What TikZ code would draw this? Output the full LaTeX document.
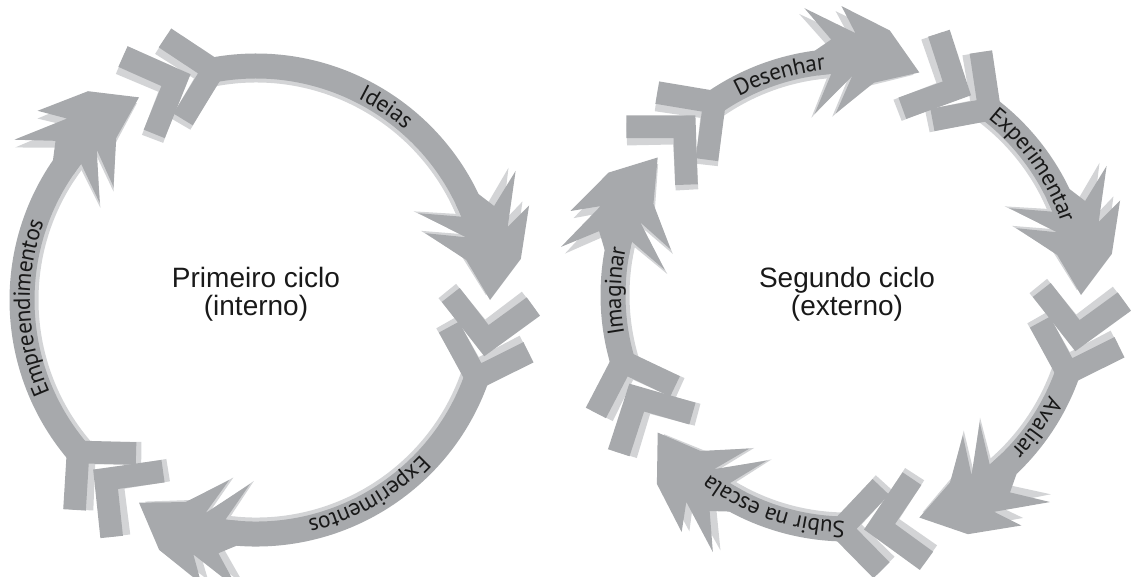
\documentclass[tikz,border=0pt]{standalone}
\usepackage{fontspec}
\usetikzlibrary{decorations.text}
\newfontfamily\rotulofont{PT Sans}
\newfontfamily\ciclofont{Liberation Sans}

\definecolor{setaescura}{RGB}{167,169,172}
\definecolor{setaclara}{RGB}{211,212,214}

\tikzset{every picture/.style={line width=0.75pt}}
\tikzset{
  faixa/.style={line width=18.75pt},
  pena/.style={line width=17pt, line join=miter, miter limit=10},
  rotulo/.style={decorate, decoration={text along path, text align=center, raise=-6pt, text color=black!90}},
  ciclotexto/.style={font=\ciclofont\fontsize{21}{21}\selectfont, align=center, text=black!90}
}

\def\raio{234}
\def\kk{0.24486}
\def\braco{58}
\def\aout{44}
\def\ain{48}

% #1 start angle, #2 tip angle, #3 colour
\newcommand{\seta}[3]{%
  \pgfmathsetmacro{\ra}{#1+10}%
  \pgfmathsetmacro{\fa}{#1+19.5}%
  \pgfmathsetmacro{\hb}{#2-20}%
  \draw[#3, faixa] (\fa:\raio) arc[start angle=\fa, end angle=\hb, radius=\raio];
  \draw[#3, pena] (\ra:\raio) ++({\ra-90+\aout}:\braco) -- (\ra:\raio) -- ++({\ra-90-\ain}:\braco);
  \draw[#3, pena] (\fa:\raio) ++({\fa-90+\aout}:\braco) -- (\fa:\raio) -- ++({\fa-90-\ain}:\braco);
  \fill[#3] (#2:\raio) -- ({#2-36*\kk}:{\raio+34}) -- ({#2-78*\kk}:{\raio+55})
     -- ({#2-66*\kk}:{\raio+28}) -- ({#2-108*\kk}:{\raio+56}) -- ({#2-88*\kk}:{\raio+22})
     -- ({#2-104*\kk}:{\raio+12.5}) -- ({#2-104*\kk}:{\raio-12.5}) -- ({#2-90*\kk}:{\raio-12})
     -- ({#2-115*\kk}:{\raio-50}) -- ({#2-68*\kk}:{\raio-15}) -- ({#2-88*\kk}:{\raio-52})
     -- ({#2-44*\kk}:{\raio-20}) -- cycle;
}

\begin{document}
\begin{tikzpicture}[x=0.75pt,y=0.75pt,yscale=-1,xscale=1]
    \useasboundingbox (0,0) rectangle (1131,576);

    %Shape: Primeiro ciclo
    \begin{scope}[shift={(256,300)}]
      \begin{scope}[rotate=-1.2, scale=0.983]
        \foreach \a/\b in {0/120,120/240,240/360} {\seta{\a}{\b}{setaclara}}
      \end{scope}
      \foreach \a/\b in {0/120,120/240,240/360} {\seta{\a}{\b}{setaescura}}

      %Text: labels on the arrows
      \path[rotulo, decoration={text={|\rotulofont\fontsize{17.5}{17.5}\selectfont|Ideias}}] (274:\raio) arc[start angle=274, end angle=334, radius=\raio];
      \path[rotulo, decoration={text={|\rotulofont\fontsize{17.5}{17.5}\selectfont|Experimentos}}] (30:\raio) arc[start angle=30, end angle=90, radius=\raio];
      \path[rotulo, decoration={text={|\rotulofont\fontsize{17.5}{17.5}\selectfont|Empreendimentos}}] (148:\raio) arc[start angle=148, end angle=208, radius=\raio];
    \end{scope}
    \node[ciclotexto] (primeiro) at (256,294) {Primeiro ciclo\\(interno)};

    %Shape: Segundo ciclo
    \begin{scope}[shift={(847,295)}]
      \begin{scope}[rotate=-1.2, scale=0.983]
        \foreach \a/\b in {-144/-72,-72/0,0/72,72/144,144/216} {\seta{\a}{\b}{setaclara}}
      \end{scope}
      \foreach \a/\b in {-144/-72,-72/0,0/72,72/144,144/216} {\seta{\a}{\b}{setaescura}}

      %Text: labels on the arrows
      \path[rotulo, decoration={text={|\rotulofont\fontsize{17.5}{17.5}\selectfont|Desenhar}}] (-137:\raio) arc[start angle=-137, end angle=-77, radius=\raio];
      \path[rotulo, decoration={text={|\rotulofont\fontsize{17.5}{17.5}\selectfont|Experimentar}}] (-65:\raio) arc[start angle=-65, end angle=-5, radius=\raio];
      \path[rotulo, decoration={text={|\rotulofont\fontsize{17.5}{17.5}\selectfont|Avaliar}}] (5:\raio) arc[start angle=5, end angle=65, radius=\raio];
      \path[rotulo, decoration={text={|\rotulofont\fontsize{17.5}{17.5}\selectfont|Subir na escala}}] (79:\raio) arc[start angle=79, end angle=139, radius=\raio];
      \path[rotulo, decoration={text={|\rotulofont\fontsize{17.5}{17.5}\selectfont|Imaginar}}] (151:\raio) arc[start angle=151, end angle=211, radius=\raio];
    \end{scope}
    \node[ciclotexto] (segundo) at (847,294) {Segundo ciclo\\(externo)};
\end{tikzpicture}
\end{document}
